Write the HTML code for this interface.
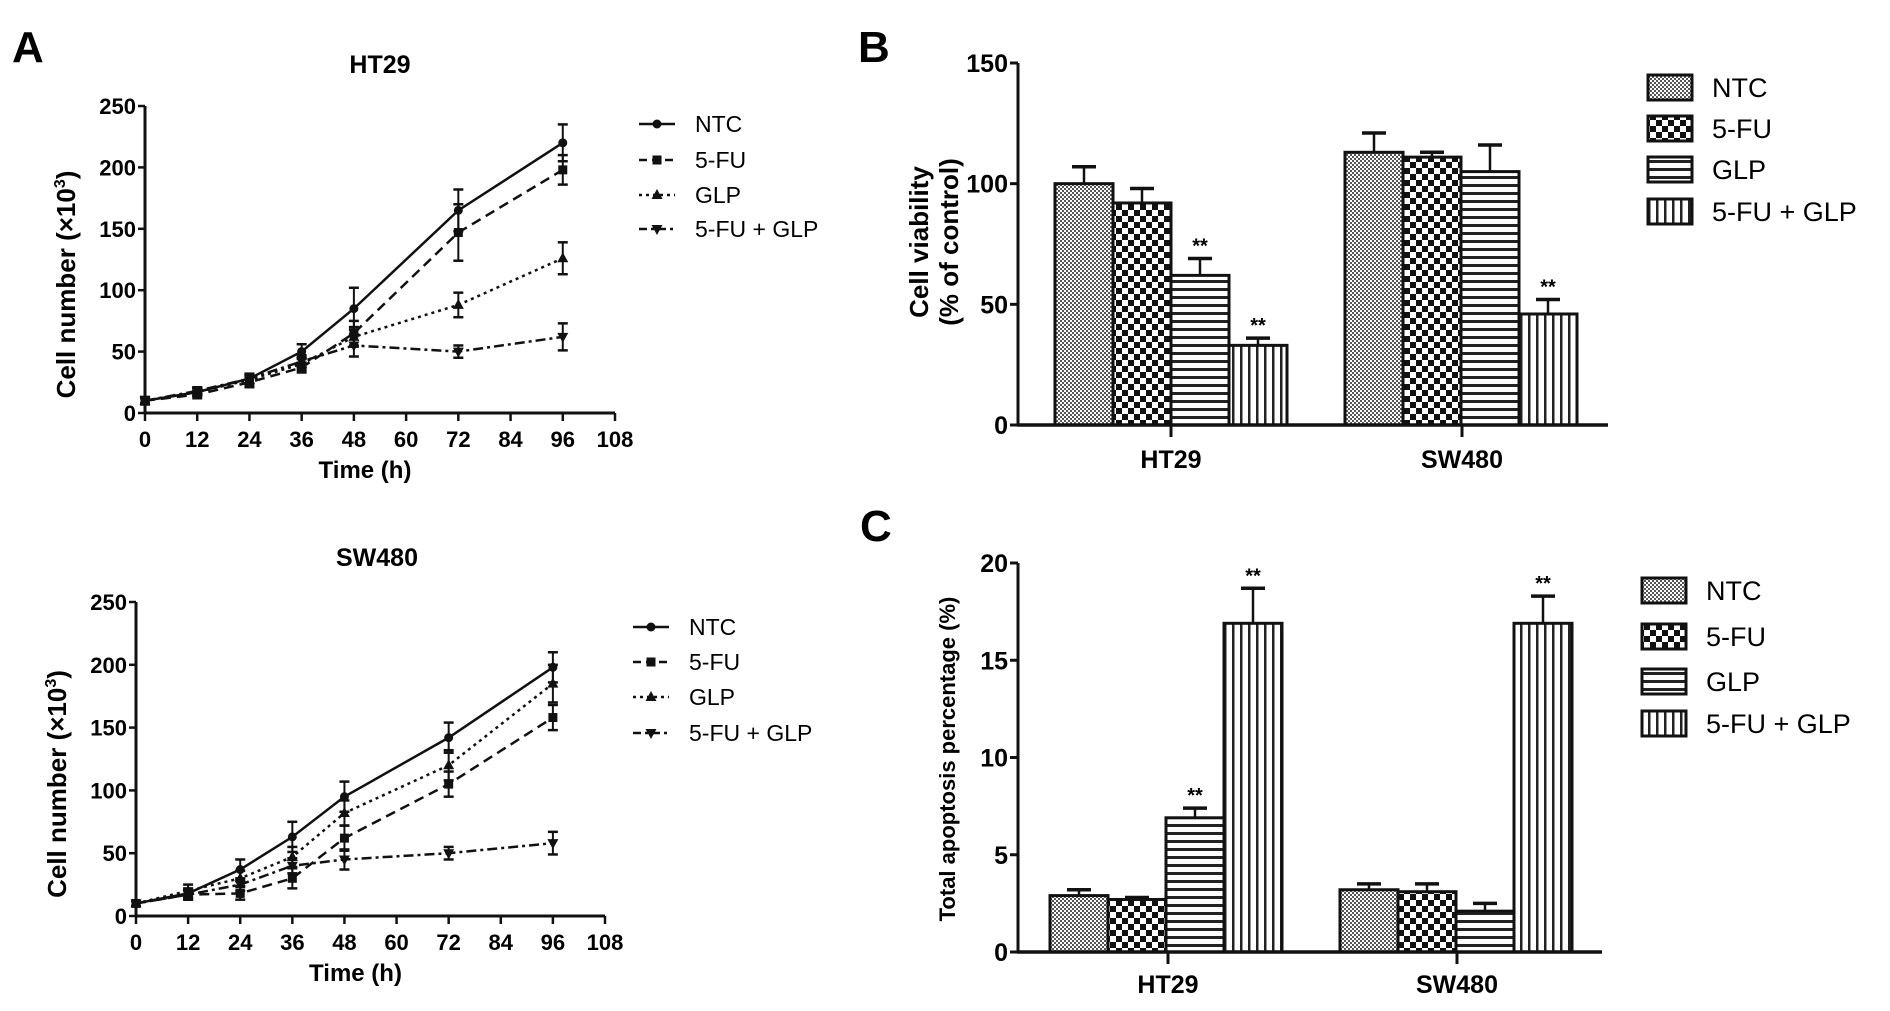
<!DOCTYPE html>
<html><head><meta charset="utf-8"><style>
html,body{margin:0;padding:0;background:#fff;}
svg{display:block;font-family:"Liberation Sans",Arial,sans-serif;}
</style></head><body>
<svg id="fig" width="1890" height="1011" viewBox="0 0 1890 1011" xmlns="http://www.w3.org/2000/svg">
<defs>
<pattern id="pNTC" width="4" height="4" patternUnits="userSpaceOnUse"><rect width="4" height="4" fill="#fff"/><rect width="2" height="2" fill="#555"/><rect x="2" y="2" width="2" height="2" fill="#555"/></pattern>
<pattern id="p5FU" width="12" height="12" patternUnits="userSpaceOnUse"><rect width="12" height="12" fill="#fff"/><rect width="6" height="6" fill="#111"/><rect x="6" y="6" width="6" height="6" fill="#111"/></pattern>
<pattern id="pGLP" width="8" height="8" patternUnits="userSpaceOnUse"><rect width="8" height="8" fill="#fff"/><rect y="0" width="8" height="3" fill="#222"/></pattern>
<pattern id="pCOMBO" width="8" height="8" patternUnits="userSpaceOnUse"><rect width="8" height="8" fill="#fff"/><rect x="0" width="2.5" height="8" fill="#222"/></pattern>
</defs>
</svg>
<script>
const times=[0,12,24,36,48,72,96];
const seriesNames=["NTC","5-FU","GLP","5-FU + GLP"];
const ht29Growth=[[10,17,28,50,85,165,220],[10,15,25,37,65,147,198],[10,17,27,40,62,88,126],[10,18,28,42,55,50,62]];
const ht29GrowthErr=[[3,3,4,6,17,17,15],[2,3,4,4,10,23,12],[3,3,4,5,8,10,13],[2,3,4,5,9,5,11]];
const swGrowth=[[10,18,37,63,95,142,198],[10,17,18,30,62,105,158],[10,20,30,47,82,120,185],[10,17,25,40,45,50,58]];
const swGrowthErr=[[2,4,8,12,12,12,12],[2,4,5,8,10,10,10],[2,5,6,8,10,12,15],[2,4,5,6,8,5,9]];
const growthYTicks=[0,50,100,150,200,250];
const growthXTicks=[0,12,24,36,48,60,72,84,96,108];
const cellLines=["HT29","SW480"];
const viability=[[100,92,62,33],[113,111,105,46]];
const viabilityErr=[[7,6,7,3],[8,2,11,6]];
const viabilityStars=[[0,0,1,1],[0,0,0,1]];
const viabilityTicks=[0,50,100,150];
const apoptosis=[[2.9,2.7,6.9,16.9],[3.2,3.1,2.1,16.9]];
const apoptosisErr=[[0.3,0.1,0.5,1.8],[0.3,0.4,0.4,1.4]];
const apoptosisStars=[[0,0,1,1],[0,0,0,1]];
const apoptosisTicks=[0,5,10,15,20];

const NS="http://www.w3.org/2000/svg";
const svg=document.getElementById('fig');
function el(tag,attrs,parent,text){const e=document.createElementNS(NS,tag);for(const k in attrs)e.setAttribute(k,attrs[k]);if(text!==undefined)e.textContent=text;(parent||svg).appendChild(e);return e;}
const dashes=["none","10,6","3,4","10,4,3,4"];
const pats=["url(#pNTC)","url(#p5FU)","url(#pGLP)","url(#pCOMBO)"];

function marker(g,k,x,y){
  let m;
  if(k==0) m=el('circle',{cx:x,cy:y,r:4.5,fill:'#111'},g);
  else if(k==1) m=el('rect',{x:x-4.5,y:y-4.5,width:9,height:9,fill:'#111'},g);
  else if(k==2) m=el('polygon',{points:`${x},${y-6} ${x-5.5},${y+4} ${x+5.5},${y+4}`,fill:'#111'},g);
  else m=el('polygon',{points:`${x},${y+6} ${x-5.5},${y-4} ${x+5.5},${y-4}`,fill:'#111'},g);
  
  
}

function growth(name,x0,x1,y0,y1,title,titleX,titleY,vals,errs,legX,legYs){
  const g=el('g',{});
  
  
  const sx=v=>x0+(x1-x0)*v/108, sy=v=>y0-(y0-y1)*v/250;
  const t=el('text',{x:titleX,y:titleY,'font-size':25,'font-weight':'bold','text-anchor':'middle'},g,title);
  
  el('line',{x1:x0,y1:y0+1,x2:x0,y2:y1,stroke:'#111','stroke-width':3},g);
  el('line',{x1:x0-1,y1:y0,x2:x1,y2:y0,stroke:'#111','stroke-width':3},g);
  growthYTicks.forEach(v=>{el('line',{x1:x0-7,y1:sy(v),x2:x0,y2:sy(v),stroke:'#111','stroke-width':2.5},g);
    const l=el('text',{x:x0-9,y:sy(v)+8,'font-size':22,'font-weight':'bold','text-anchor':'end'},g,v);
    });
  growthXTicks.forEach(v=>{el('line',{x1:sx(v),y1:y0,x2:sx(v),y2:y0+8,stroke:'#111','stroke-width':2.5},g);
    const l=el('text',{x:sx(v),y:y0+34,'font-size':22,'font-weight':'bold','text-anchor':'middle'},g,v);
    });
  const xt=el('text',{x:(x0+x1)/2-15,y:y0+65,'font-size':24,'font-weight':'bold','text-anchor':'middle'},g,'Time (h)');
  
  const yc=(y0+y1)/2+25;
  const yt=el('text',{x:0,y:0,'font-size':26,'font-weight':'bold','text-anchor':'middle',transform:`translate(${x0-70},${yc}) rotate(-90)`},g);
  
  el('tspan',{},yt,'Cell number (\u00d710');el('tspan',{'font-size':16,dy:-10},yt,'3');el('tspan',{dy:10},yt,')');
  vals.forEach((s,k)=>{
    const sg=el('g',{},g);
    
    
    const pts=s.map((v,i)=>sx(times[i])+','+sy(v)).join(' ');
    const pl=el('polyline',{points:pts,fill:'none',stroke:'#111','stroke-width':2.5,'stroke-dasharray':dashes[k]},sg);
    
    s.forEach((v,i)=>{const x=sx(times[i]),e=errs[k][i];
      el('line',{x1:x,y1:sy(v-e),x2:x,y2:sy(v+e),stroke:'#111','stroke-width':2},sg);
      el('line',{x1:x-5,y1:sy(v-e),x2:x+5,y2:sy(v-e),stroke:'#111','stroke-width':2.5},sg);
      el('line',{x1:x-5,y1:sy(v+e),x2:x+5,y2:sy(v+e),stroke:'#111','stroke-width':2.5},sg);
      marker(sg,k,x,sy(v));});
  });
  seriesNames.forEach((n,k)=>{
    const lg=el('g',{},g);
    
    const y=legYs[k];
    el('line',{x1:legX,y1:y,x2:legX+36,y2:y,stroke:'#111','stroke-width':2.5,'stroke-dasharray':dashes[k]==='none'?'none':(k==1?'8,5':k==2?'3,4':'8,4,3,4')},lg);
    marker(lg,k,legX+18,y);
    el('text',{x:legX+56,y:y+8,'font-size':23},lg,n);
  });
}

function bars(name,x0,x1,y0,y1,maxV,ticks,vals,errs,stars,groupX,barW,barStarts,labelY,legX,legYs,ylab){
  const g=el('g',{});
  
  
  const sy=v=>y0-(y0-y1)*v/maxV;
  ticks.forEach(v=>{el('line',{x1:x0-8,y1:sy(v),x2:x0,y2:sy(v),stroke:'#111','stroke-width':3},g);
    const l=el('text',{x:x0-10,y:sy(v)+9,'font-size':25,'font-weight':'bold','text-anchor':'end'},g,v);
    });
  vals.forEach((grp,gi)=>{
    grp.forEach((v,k)=>{
      const bx=barStarts[gi]+k*barW;
      const e=errs[gi][k];
      el('line',{x1:bx+barW/2,y1:sy(v),x2:bx+barW/2,y2:sy(v+e),stroke:'#111','stroke-width':2.5},g);
      el('line',{x1:bx+barW/2-12,y1:sy(v+e),x2:bx+barW/2+12,y2:sy(v+e),stroke:'#111','stroke-width':3.5},g);
      const r=el('rect',{x:bx,y:sy(v),width:barW,height:y0-sy(v),fill:pats[k],stroke:'#111','stroke-width':3},g);
      
      
      if(stars[gi][k]){const s=el('text',{x:bx+barW/2,y:sy(v+e)-6,'font-size':20,'font-weight':'bold','text-anchor':'middle'},g,'**');
        }
    });
  });
  el('line',{x1:x0,y1:y0+1,x2:x0,y2:y1,stroke:'#111','stroke-width':3},g);
  el('line',{x1:x0-1,y1:y0,x2:x1,y2:y0,stroke:'#111','stroke-width':3.5},g);
  cellLines.forEach((c,i)=>{el('line',{x1:groupX[i],y1:y0,x2:groupX[i],y2:y0+12,stroke:'#111','stroke-width':3},g);
    const l=el('text',{x:groupX[i],y:labelY,'font-size':25,'font-weight':'bold','text-anchor':'middle'},g,c);
    });
  ylab(g);
  seriesNames.forEach((n,k)=>{
    const lg=el('g',{},g);
    
    const y=legYs[k];
    el('rect',{x:legX,y:y-12,width:44,height:25,fill:pats[k],stroke:'#111','stroke-width':3},lg);
    el('text',{x:legX+64,y:y+10,'font-size':27},lg,n);
  });
}

function letter(t,x,y){const l=el('text',{x:x,y:y,'font-size':44,'font-weight':'bold'},svg,t);
  }
letter('A',12,62);letter('B',858,62);letter('C',860,541);

growth('growth-chart-ht29',145,615,413,106,'HT29',380,73,ht29Growth,ht29GrowthErr,639,[124,160,195,229]);
growth('growth-chart-sw480',136,605,916,602,'SW480',377,566,swGrowth,swGrowthErr,633,[627,662,697,733]);

bars('viability-chart',1018,1608,425,63,150,viabilityTicks,viability,viabilityErr,viabilityStars,[1171,1462],58,[1055,1345],468,1648,[87,128,169,211],g=>{
  const t=el('text',{x:0,y:0,'font-size':26,'font-weight':'bold','text-anchor':'middle',transform:'translate(928,242) rotate(-90)'},g,'Cell viability');
  
  const t2=el('text',{x:0,y:0,'font-size':26,'font-weight':'bold','text-anchor':'middle',transform:'translate(958,242) rotate(-90)'},g,'(% of control)');
  
});
bars('apoptosis-chart',1018,1602,952,563,20,apoptosisTicks,apoptosis,apoptosisErr,apoptosisStars,[1168,1457],58,[1050,1340],993,1642,[590,636,681,723],g=>{
  const t=el('text',{x:0,y:0,'font-size':22,'font-weight':'bold','text-anchor':'middle',transform:'translate(955,759) rotate(-90)'},g,'Total apoptosis percentage (%)');
  
});
</script>
</body></html>
